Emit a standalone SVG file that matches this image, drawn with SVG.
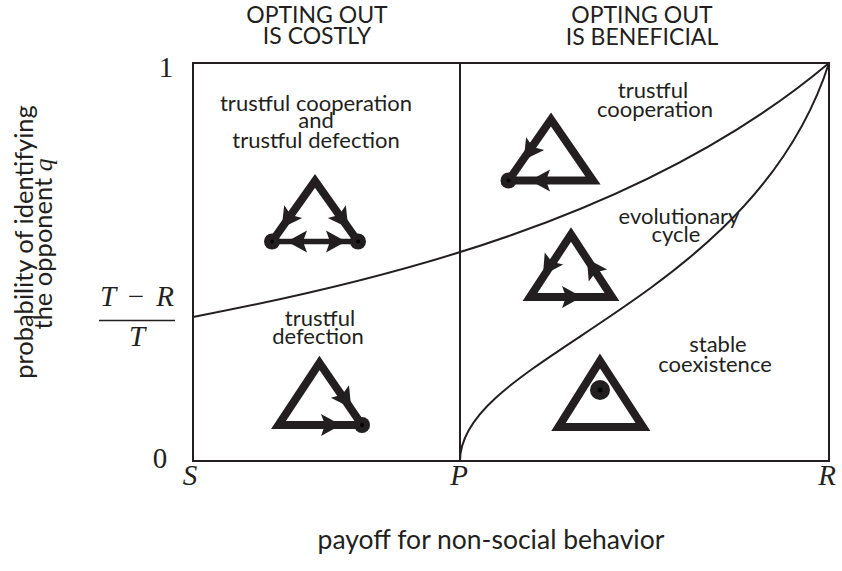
<svg xmlns="http://www.w3.org/2000/svg" width="842" height="571" viewBox="0 0 842 571">
  <style>
    .lbl{font-family:Lato,"Open Sans","DejaVu Sans",sans-serif;font-size:22px;fill:#231f20;text-anchor:middle}
    .hdr{font-size:23px}
    .ax{font-size:25.5px}
    .ttl{font-size:26.5px}
    .math{font-family:"Liberation Serif","DejaVu Serif",serif;font-size:29px;fill:#231f20;text-anchor:middle}
    .it{font-style:italic}
    .frame{fill:none;stroke:#231f20;stroke-width:2}
    .curve{fill:none;stroke:#231f20;stroke-width:2}
    .tri{fill:none;stroke:#231f20;stroke-width:8;stroke-linejoin:miter;stroke-miterlimit:10}
    .head{fill:#231f20}
  </style>
  <defs>
    <!-- flow arrowhead, pointing along +x, centred on its anchor -->
    <path id="ah" class="head" d="M11,0 L-9,-11 L-5,0 L-9,11 Z"/>
    <!-- stable fixed point at a vertex -->
    <g id="fixed"><circle r="8" fill="#231f20"/><circle r="2" fill="#000"/></g>
  </defs>

  <!-- plot frame and the P divider -->
  <g id="frame">
    <rect class="frame" x="193" y="63" width="636" height="398"/>
    <line class="frame" x1="460" y1="63" x2="460" y2="461"/>
  </g>

  <!-- region boundaries -->
  <g id="boundaries">
    <path class="curve" d="M193,316.9 C378,281.9 644,218.8 829,63"/>
    <path class="curve" d="M460,461 C460,356 752,303 829,63"/>
  </g>

  <!-- column headers -->
  <g id="header-costly">
    <text class="lbl hdr" x="317" y="23">OPTING OUT</text>
    <text class="lbl hdr" x="317" y="44">IS COSTLY</text>
  </g>
  <g id="header-beneficial">
    <text class="lbl hdr" x="642" y="23">OPTING OUT</text>
    <text class="lbl hdr" x="642" y="45">IS BENEFICIAL</text>
  </g>

  <!-- bistable: trustful cooperation and trustful defection -->
  <g id="region-bistable">
    <text class="lbl" x="316" y="111">trustful cooperation</text>
    <text class="lbl" x="316" y="128">and</text>
    <text class="lbl" x="316" y="148">trustful defection</text>
    <path class="tri" d="M272,241.5 L315,181 L358,241.5"/>
    <line x1="272" y1="241.5" x2="358" y2="241.5" stroke="#231f20" stroke-width="5.5"/>
    <use href="#ah" transform="translate(288,219) rotate(125.2)"/>
    <use href="#ah" transform="translate(342,219) rotate(54.8)"/>
    <use href="#ah" transform="translate(298,241.5) rotate(180)"/>
    <use href="#ah" transform="translate(335,241.5)"/>
    <use href="#fixed" x="272" y="241.5"/>
    <use href="#fixed" x="358" y="241.5"/>
  </g>

  <!-- trustful cooperation -->
  <g id="region-cooperation">
    <text class="lbl" x="653" y="98">trustful</text>
    <text class="lbl" x="655" y="117">cooperation</text>
    <polygon class="tri" points="551,119.5 593,180.5 508.5,180.5"/>
    <use href="#ah" transform="translate(530,151) rotate(124.9)"/>
    <use href="#ah" transform="translate(541,180.5) rotate(180)"/>
    <use href="#fixed" x="508.5" y="180.5"/>
  </g>

  <!-- evolutionary cycle -->
  <g id="region-cycle">
    <text class="lbl" x="679" y="224">evolutionary</text>
    <text class="lbl" x="676" y="242">cycle</text>
    <polygon class="tri" points="571,234.5 612,297 530,297"/>
    <use href="#ah" transform="translate(549,266) rotate(123.3)"/>
    <use href="#ah" transform="translate(571,297)"/>
    <use href="#ah" transform="translate(593,268) rotate(-123.3)"/>
  </g>

  <!-- stable coexistence -->
  <g id="region-coexistence">
    <text class="lbl" x="718" y="352">stable</text>
    <text class="lbl" x="715" y="372">coexistence</text>
    <polygon class="tri" points="600,361 643,427 558.5,427"/>
    <circle cx="600" cy="390" r="10" fill="#231f20"/>
    <circle cx="600" cy="390" r="2.5" fill="#000"/>
  </g>

  <!-- trustful defection -->
  <g id="region-defection">
    <text class="lbl" x="320" y="326">trustful</text>
    <text class="lbl" x="318" y="344">defection</text>
    <polygon class="tri" points="319.5,363 362,425 278.5,425"/>
    <use href="#ah" transform="translate(345,399) rotate(55.6)"/>
    <use href="#ah" transform="translate(330,425)"/>
    <use href="#fixed" x="362" y="425"/>
  </g>

  <!-- axes: ticks and titles -->
  <g id="axis-y">
    <text class="math" x="166" y="77">1</text>
    <text class="math" x="160" y="468">0</text>
    <text class="math it" x="108" y="306">T</text>
    <text class="math" x="136" y="306">−</text>
    <text class="math it" x="165" y="306">R</text>
    <line x1="99" y1="320.5" x2="175" y2="320.5" stroke="#231f20" stroke-width="1.5"/>
    <text class="math it" x="137" y="346">T</text>
    <text class="lbl ax" transform="translate(33,242) rotate(-90)">probability of identifying</text>
    <text class="lbl ax" transform="translate(52,244) rotate(-90)">the opponent <tspan font-family="Liberation Serif, serif" font-style="italic">q</tspan></text>
  </g>
  <g id="axis-x">
    <text class="math it" x="190" y="485">S</text>
    <text class="math it" x="459" y="485">P</text>
    <text class="math it" x="827" y="485">R</text>
    <text class="lbl ttl" x="491" y="549">payoff for non-social behavior</text>
  </g>
</svg>
